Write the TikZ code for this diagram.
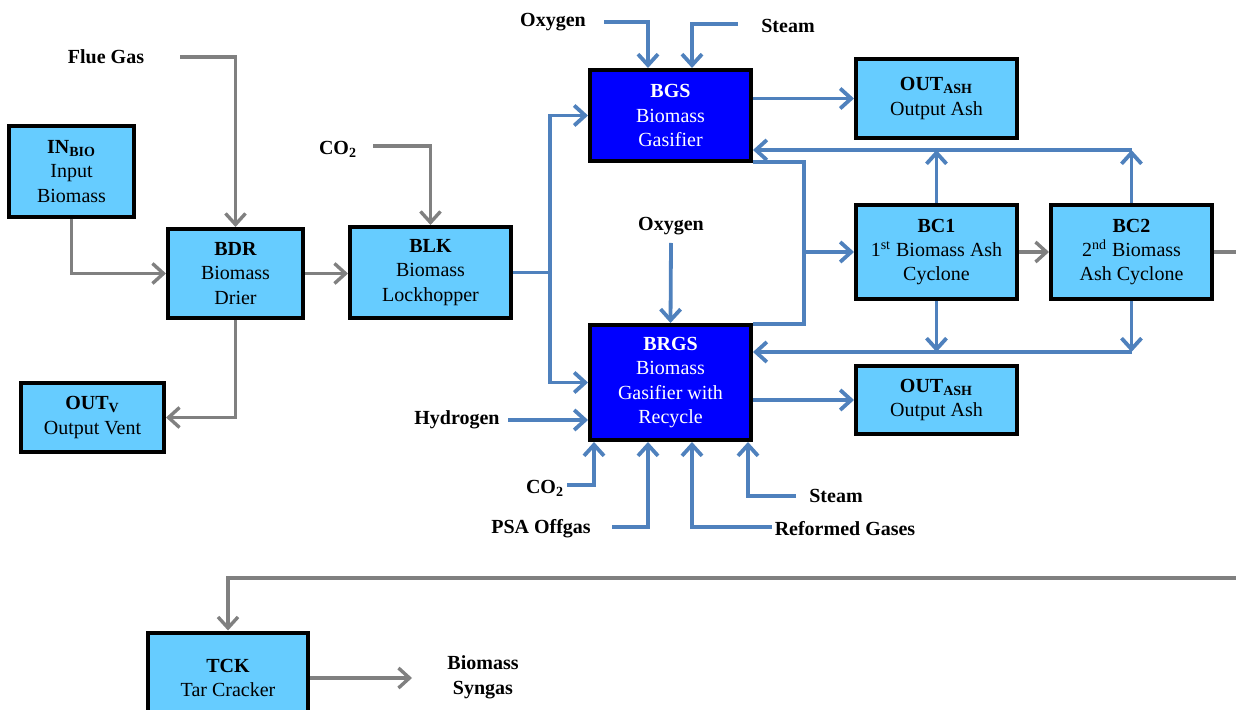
\documentclass[tikz,border=0pt]{standalone}
\usepackage{fontspec}
\setmainfont{Liberation Serif}
\usetikzlibrary{calc,arrows.meta}

\definecolor{boxblue}{HTML}{66CCFF}
\definecolor{gasblue}{HTML}{0000FF}
\definecolor{flowblue}{HTML}{4F81BD}
\definecolor{flowgray}{HTML}{808080}

\tikzset{
  unit/.style={draw=black, line width=2pt, fill=boxblue, align=center,
    inner sep=1pt, font=\fontsize{10}{12.2}\selectfont, minimum width=80.5pt},
  gasunit/.style={unit, fill=gasblue, text=white},
  stream/.style={font=\bfseries\fontsize{10}{12.5}\selectfont, align=center, inner sep=1pt},
  blueflow/.style={draw=flowblue, line width=1.9pt},
  grayflow/.style={draw=flowgray, line width=1.7pt},
  bluearrow/.style={blueflow, -{Straight Barb[length=5.5pt,width=10pt]}},
  grayarrow/.style={grayflow, -{Straight Barb[length=5.5pt,width=10pt]}}
}

\begin{document}
\begin{tikzpicture}[x=0.5pt,y=-0.5pt]

    % Page frame (pixel units of the original)
    \useasboundingbox (0,0) rectangle (1236,710);
    \clip (0,0) rectangle (1236,710);

    % Process units
    \node[unit, minimum width=62.5pt, minimum height=45.5pt] (inbio) at (71.5,171.5)
        {\textbf{IN\textsubscript{BIO}}\\Input\\Biomass};
    \node[unit, minimum width=67.5pt, minimum height=44.5pt] (bdr) at (235.5,273.5)
        {\textbf{BDR}\\Biomass\\Drier};
    \node[unit, minimum height=45.5pt] (blk) at (430.5,272.5)
        {\textbf{BLK}\\Biomass\\Lockhopper};
    \node[unit, minimum width=71.5pt, minimum height=34.5pt] (outv) at (92.5,417.5)
        {\textbf{OUT\textsubscript{V}}\\Output Vent};
    \node[gasunit, minimum height=45.5pt] (bgs) at (670.5,115.5)
        {\textbf{BGS}\\Biomass\\Gasifier};
    \node[gasunit, minimum height=57.5pt] (brgs) at (670.5,382.5)
        {\textbf{BRGS}\\Biomass\\Gasifier with\\Recycle};
    \node[unit, minimum height=39.5pt] (ash1) at (936.5,98.5)
        {\textbf{OUT\textsubscript{ASH}}\\Output Ash};
    \node[unit, minimum height=34pt] (ash2) at (936.5,400)
        {\textbf{OUT\textsubscript{ASH}}\\Output Ash};
    \node[unit, minimum height=47pt] (bc1) at (936.5,252)
        {\textbf{BC1}\\1\textsuperscript{st} Biomass Ash\\Cyclone};
    \node[unit, minimum height=47pt] (bc2) at (1131.5,252)
        {\textbf{BC2}\\2\textsuperscript{nd} Biomass\\Ash Cyclone};
    \node[unit, minimum width=80pt, minimum height=45.5pt] (tck) at (228,678)
        {\textbf{TCK}\\Tar Cracker};

    % Stream labels
    \node[stream] (fluegas) at (106,57) {Flue Gas};
    \node[stream] (co2top) at (338,149) {CO\textsubscript{2}};
    \node[stream] (oxytop) at (553,22) {Oxygen};
    \node[stream] (steamtop) at (788,26) {Steam};
    \node[stream] (oxymid) at (671,226) {Oxygen};
    \node[stream] (hydrogen) at (457,420) {Hydrogen};
    \node[stream] (co2bot) at (545,488) {CO\textsubscript{2}};
    \node[stream] (psa) at (541,529) {PSA Offgas};
    \node[stream] (steambot) at (836,496) {Steam};
    \node[stream] (reformed) at (845,529) {Reformed Gases};
    \node[stream] (syngas) at (483,677) {Biomass\\Syngas};

    % Free ends of the feed lines
    \coordinate (fluegas-in) at (180,57);
    \coordinate (co2top-in) at (373,146);
    \coordinate (oxytop-in) at (604,22);
    \coordinate (steamtop-in) at (738,24);
    \coordinate (oxymid-in) at (671,243);
    \coordinate (h2-in) at (508,420);
    \coordinate (co2bot-in) at (567,485);
    \coordinate (psa-in) at (612,527);
    \coordinate (reformed-in) at (772,527);
    \coordinate (steambot-in) at (796,496);
    \coordinate (syngas-out) at (412,678);

    % Junctions
    \coordinate (split) at (550,272.5);
    \coordinate (cycin) at (804,252);
    \coordinate (topret) at (1131.5,150);
    \coordinate (botret) at (1131.5,352);
    \coordinate (offright) at (1240,252);
    \coordinate (offbottom) at (1240,578);

    % Drier and lockhopper
    \draw[grayarrow] (fluegas-in) -| (bdr.north);
    \draw[grayarrow] (inbio.south) |- (bdr.west);
    \draw[grayarrow] (bdr.east) -- (bdr.east -| blk.west);
    \draw[grayarrow] (bdr.south) |- (outv.east);
    \draw[grayarrow] (co2top-in) -| (blk.north);

    % Lockhopper to both gasifiers
    \draw[blueflow] (blk.east) -- (split);
    \draw[bluearrow] (split) |- (bgs.west);
    \draw[bluearrow] (split) |- (brgs.west);

    % Gasifier feeds
    \draw[bluearrow] (oxytop-in) -| ($(bgs.north)+(-22.5,0)$);
    \draw[bluearrow] (steamtop-in) -| ($(bgs.north)+(21.5,0)$);
    \draw[bluearrow] (oxymid-in) -- (brgs.north);
    \draw[bluearrow] (h2-in) -- (brgs.west |- h2-in);
    \draw[bluearrow] (co2bot-in) -| ($(brgs.south west)+(6,0)$);
    \draw[bluearrow] (psa-in) -| ($(brgs.south)+(-22.5,0)$);
    \draw[bluearrow] (reformed-in) -| ($(brgs.south)+(21.5,0)$);
    \draw[bluearrow] (steambot-in) -| ($(brgs.south east)+(-5,0)$);

    % Ash outputs
    \draw[bluearrow] (bgs.east |- ash1.west) -- (ash1.west);
    \draw[bluearrow] (brgs.east |- ash2.west) -- (ash2.west);

    % Gas to the cyclones
    \draw[blueflow] ($(bgs.south east)+(0,-1)$) -| (cycin);
    \draw[blueflow] ($(brgs.north east)+(0,1)$) -| (cycin);
    \draw[bluearrow] (cycin) -- (bc1.west);

    % Solids back to the gasifiers
    \draw[bluearrow] (bc1.north) -- (bc1.north |- topret);
    \draw[bluearrow] (bc2.north) -- (topret);
    \draw[bluearrow] (topret) -- (bgs.east |- topret);
    \draw[bluearrow] (bc1.south) -- (bc1.south |- botret);
    \draw[bluearrow] (bc2.south) -- (botret);
    \draw[bluearrow] (botret) -- (brgs.east |- botret);

    % Cyclone gas to the tar cracker
    \draw[grayarrow] (bc1.east) -- (bc2.west);
    \draw[grayflow] (bc2.east) -- (offright);
    \draw[grayarrow] (offbottom) -| (tck.north);
    \draw[grayarrow] (tck.east) -- (syngas-out);

\end{tikzpicture}
\end{document}
